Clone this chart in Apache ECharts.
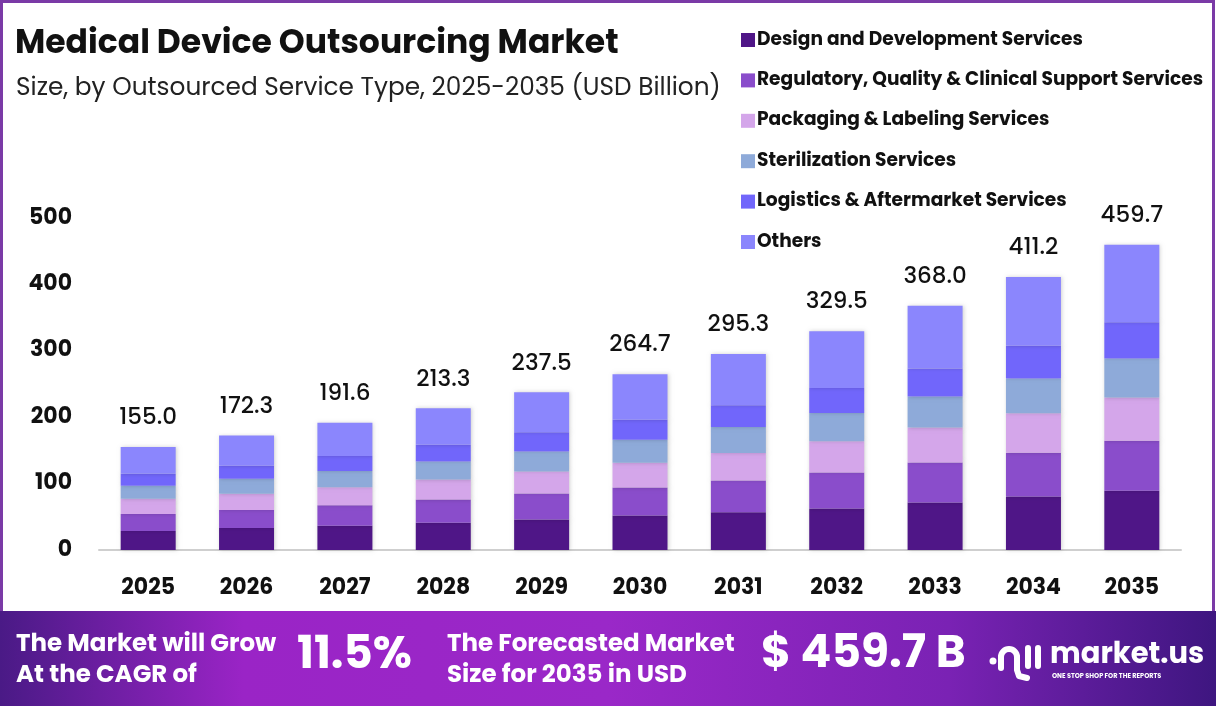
<!DOCTYPE html>
<html>
<head>
<meta charset="utf-8">
<title>Medical Device Outsourcing Market</title>
<script src="https://cdn.jsdelivr.net/npm/echarts@6/dist/echarts.min.js"></script>
<style>
  html, body { margin: 0; padding: 0; background: #fff; }
  #chart { width: 1216px; height: 706px; }
</style>
</head>
<body>
<div id="chart"></div>
<script>
// categories and values (USD Billion)
var years = ['2025', '2026', '2027', '2028', '2029', '2030', '2031', '2032', '2033', '2034', '2035'];
var totals = [155.0, 172.3, 191.6, 213.3, 237.5, 264.7, 295.3, 329.5, 368.0, 411.2, 459.7];

var design = [28.7, 33.2, 36.7, 41.2, 45.8, 51.8, 56.8, 62.4, 71.5, 80.5, 89.1];
var regulatory = [25.7, 27.2, 30.7, 34.7, 39.3, 42.3, 47.9, 54.4, 60.4, 66.0, 75.5];
var packaging = [22.7, 24.2, 27.2, 30.2, 33.2, 37.3, 41.2, 46.8, 52.4, 59.4, 65.0];
var sterilization = [19.6, 22.7, 24.2, 27.2, 30.2, 34.7, 39.3, 42.7, 46.8, 52.4, 58.9];
var logistics = [18.1, 19.6, 22.7, 25.2, 28.7, 30.2, 32.8, 37.8, 42.3, 49.4, 54.4];
var others = [40.2, 45.4, 50.1, 54.8, 60.3, 68.4, 77.3, 85.4, 94.6, 103.5, 116.8];

var yTicks = [0, 100, 200, 300, 400, 500];

var seriesNames = [
    'Design and Development Services',
    'Regulatory, Quality & Clinical Support Services',
    'Packaging & Labeling Services',
    'Sterilization Services',
    'Logistics & Aftermarket Services',
    'Others'
];
var seriesData = [design, regulatory, packaging, sterilization, logistics, others];
var colors = ['#4f1687', '#8a4dcb', '#d4a6ea', '#8eaad9', '#7166fb', '#8b86fd'];

var font = 'Poppins, Inter, "Noto Sans", sans-serif';

var myChart = echarts.init(document.getElementById('chart'));

var series = seriesNames.map(function (name, i) {
    var s = {
        name: name,
        type: 'bar',
        stack: 'total',
        barWidth: 55,
        data: seriesData[i],
        itemStyle: {
            color: colors[i],
            shadowColor: 'rgba(0,0,0,0.18)',
            shadowBlur: 4,
            shadowOffsetX: 1
        }
    };
    if (i === seriesNames.length - 1) {
        // total value label on top of each stack
        s.label = {
            show: true,
            position: 'top',
            distance: 17,
            color: '#111',
            fontFamily: font,
            fontSize: 23,
            fontWeight: 500,
            formatter: function (p) { return totals[p.dataIndex].toFixed(1); }
        };
    }
    return s;
});

var option = {
    backgroundColor: '#fff',
    animation: false,
    textStyle: { fontFamily: font },
    grid: { left: 99, right: 35, top: 218, bottom: 156 },
    legend: {
        orient: 'vertical',
        left: 736,
        top: 24,
        itemWidth: 14,
        itemHeight: 14,
        itemGap: 18.4,
        icon: 'rect',
        data: seriesNames,
        textStyle: {
            color: '#111',
            fontFamily: font,
            fontSize: 18.6,
            fontWeight: 'bold',
            lineHeight: 22,
            padding: [0, 0, 0, -3]
        }
    },
    xAxis: {
        type: 'category',
        data: years,
        axisTick: { show: false },
        axisLine: { lineStyle: { color: '#cfcfcf', width: 2 } },
        axisLabel: {
            color: '#111',
            fontFamily: font,
            fontSize: 22,
            fontWeight: 'bold',
            margin: 27
        }
    },
    yAxis: {
        type: 'value',
        min: yTicks[0],
        max: yTicks[yTicks.length - 1],
        interval: 100,
        splitLine: { show: false },
        axisLine: { show: false },
        axisTick: { show: false },
        axisLabel: {
            color: '#111',
            fontFamily: font,
            fontSize: 22,
            fontWeight: 'bold',
            margin: 27
        }
    },
    series: series,
    graphic: [
        // outer border
        {
            type: 'rect', silent: true, z: 0,
            shape: { x: 1.5, y: 1.5, width: 1212, height: 703 },
            style: { fill: 'none', stroke: '#7a3aa6', lineWidth: 3 }
        },
        // title
        {
            type: 'text', left: 15, top: 28,
            style: { text: 'Medical Device Outsourcing Market', fill: '#111', font: 'bold 33px ' + font }
        },
        {
            type: 'text', left: 16, top: 76,
            style: { text: 'Size, by Outsourced Service Type, 2025-2035 (USD Billion)', fill: '#222', font: '24.8px ' + font }
        },
        // footer band
        {
            type: 'rect', silent: true, z: 1,
            shape: { x: 0, y: 611, width: 1216, height: 95 },
            style: {
                fill: new echarts.graphic.LinearGradient(0, 0, 1, 0, [
                    { offset: 0, color: '#4a1a86' },
                    { offset: 0.2, color: '#9a24c6' },
                    { offset: 0.5, color: '#9a28c8' },
                    { offset: 0.78, color: '#7a22b4' },
                    { offset: 1, color: '#3e1680' }
                ])
            }
        },
        {
            type: 'text', left: 16, top: 629, z: 2,
            style: { text: 'The Market will Grow\nAt the CAGR of', fill: '#fff', font: 'bold 24.5px ' + font, lineHeight: 31 }
        },
        {
            type: 'text', left: 297, top: 634, z: 2,
            style: {
                text: '11.5%', fill: '#fff', font: 'bold 45px ' + font,
                shadowColor: 'rgba(0,0,0,0.35)', shadowBlur: 6, shadowOffsetY: 2
            }
        },
        {
            type: 'text', left: 447, top: 629, z: 2,
            style: { text: 'The Forecasted Market\nSize for 2035 in USD', fill: '#fff', font: 'bold 24.5px ' + font, lineHeight: 31 }
        },
        {
            type: 'text', left: 761, top: 633, z: 2,
            style: {
                text: '$ 459.7 B', fill: '#fff', font: 'bold 45.5px ' + font,
                shadowColor: 'rgba(0,0,0,0.35)', shadowBlur: 6, shadowOffsetY: 2
            }
        },
        // logo mark
        {
            type: 'circle', z: 2,
            shape: { cx: 993, cy: 661, r: 3.5 },
            style: { fill: '#fff' }
        },
        {
            type: 'arc', z: 2,
            shape: { cx: 1009, cy: 657, r: 8, startAngle: Math.PI, endAngle: 2 * Math.PI },
            style: { stroke: '#fff', lineWidth: 6, fill: 'none', lineCap: 'round' }
        },
        {
            type: 'polyline', z: 2,
            shape: { points: [[1001, 657], [1001, 668]] },
            style: { stroke: '#fff', lineWidth: 6, lineCap: 'round' }
        },
        {
            type: 'polyline', z: 2,
            shape: { points: [[1017, 657], [1017, 670], [1019, 676], [1027, 678]] },
            style: { stroke: '#fff', lineWidth: 6, lineCap: 'round', lineJoin: 'round', fill: 'none' }
        },
        {
            type: 'polyline', z: 2,
            shape: { points: [[1028, 648], [1028, 666]] },
            style: { stroke: '#fff', lineWidth: 6, lineCap: 'round' }
        },
        {
            type: 'polyline', z: 2,
            shape: { points: [[1038, 648], [1038, 666]] },
            style: { stroke: '#fff', lineWidth: 6, lineCap: 'round' }
        },
        {
            type: 'text', left: 1050, top: 641, z: 2,
            style: { text: 'market.us', fill: '#fff', font: 'bold 29px ' + font }
        },
        {
            type: 'text', left: 1052, top: 673, z: 2,
            style: { text: 'ONE STOP SHOP FOR THE REPORTS', fill: '#fff', font: 'bold 6.5px ' + font, letterSpacing: 1.2 }
        }
    ]
};

myChart.setOption(option);
</script>
</body>
</html>
